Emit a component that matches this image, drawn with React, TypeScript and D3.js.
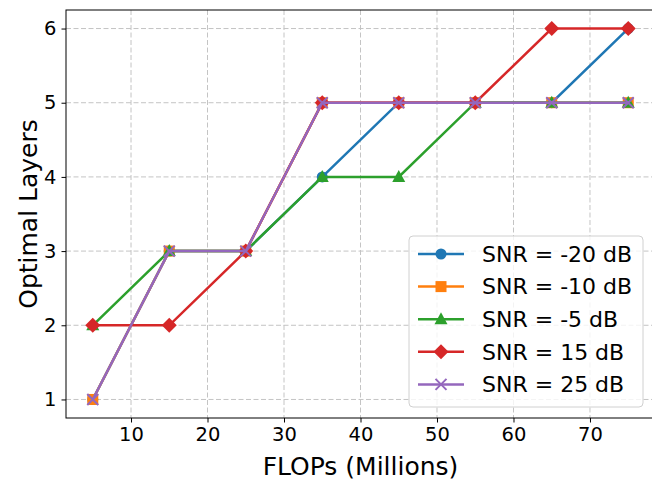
import { useEffect, useRef } from "react"
import * as d3 from "d3"

const flops = [5, 15, 25, 35, 45, 55, 65, 75]
const snrLabels = ["SNR = -20 dB", "SNR = -10 dB", "SNR = -5 dB", "SNR = 15 dB", "SNR = 25 dB"]
const snrM20 = [1, 3, 3, 4, 5, 5, 5, 6]
const snrM10 = [1, 3, 3, 5, 5, 5, 5, 5]
const snrM5 = [2, 3, 3, 4, 4, 5, 5, 5]
const snr15 = [2, 2, 3, 5, 5, 5, 6, 6]
const snr25 = [1, 3, 3, 5, 5, 5, 5, 5]
const yTicks = [1, 2, 3, 4, 5, 6]
const xTicks = [10, 20, 30, 40, 50, 60, 70]

const colors = ["#1f77b4", "#ff7f0e", "#2ca02c", "#d62728", "#9467bd"]
const markers = ["circle", "square", "triangle", "diamond", "x"]

function drawMarker(g: d3.Selection<SVGGElement, unknown, null, undefined>, kind: string, x: number, y: number, color: string) {
  if (kind === "circle") {
    g.append("circle").attr("cx", x).attr("cy", y).attr("r", 5.5).attr("fill", color)
  } else if (kind === "square") {
    g.append("rect").attr("x", x - 5.5).attr("y", y - 5.5).attr("width", 11).attr("height", 11).attr("fill", color)
  } else if (kind === "triangle") {
    g.append("path").attr("d", `M${x},${y - 7}L${x + 6.5},${y + 5}L${x - 6.5},${y + 5}Z`).attr("fill", color)
  } else if (kind === "diamond") {
    g.append("path").attr("d", `M${x},${y - 7.5}L${x + 7.5},${y}L${x},${y + 7.5}L${x - 7.5},${y}Z`).attr("fill", color)
  } else {
    g.append("path").attr("d", `M${x - 5.5},${y - 5.5}L${x + 5.5},${y + 5.5}M${x - 5.5},${y + 5.5}L${x + 5.5},${y - 5.5}`)
      .attr("stroke", color).attr("stroke-width", 2).attr("fill", "none")
  }
}

export default function App() {
  const svgRef = useRef<SVGSVGElement>(null)

  useEffect(() => {
    const svg = d3.select(svgRef.current)
    svg.selectAll("*").remove()

    const width = 652
    const height = 483
    // plot area runs a little past the right edge of the picture (right spine is cropped)
    const plot = { left: 66, right: 655, top: 10, bottom: 418 }
    const font = "DejaVu Sans, sans-serif"

    svg.attr("width", width).attr("height", height)

    const x = d3.scaleLinear().domain([1.5, 78.5]).range([plot.left, plot.right])
    const y = d3.scaleLinear().domain([0.75, 6.25]).range([plot.bottom, plot.top])

    const series = [snrM20, snrM10, snrM5, snr15, snr25]

    // Grid
    const grid = svg.append("g")
    xTicks.forEach(t => {
      grid.append("line")
        .attr("x1", x(t)).attr("x2", x(t))
        .attr("y1", plot.top).attr("y2", plot.bottom)
        .attr("stroke", "#c4c4c4").attr("stroke-width", 1).attr("stroke-dasharray", "5,2.5")
    })
    yTicks.forEach(t => {
      grid.append("line")
        .attr("x1", plot.left).attr("x2", plot.right)
        .attr("y1", y(t)).attr("y2", y(t))
        .attr("stroke", "#c4c4c4").attr("stroke-width", 1).attr("stroke-dasharray", "5,2.5")
    })

    // Lines and markers
    const line = d3.line<number>().x((d, i) => x(flops[i])).y(d => y(d))
    series.forEach((s, si) => {
      const g = svg.append("g")
      g.append("path")
        .attr("d", line(s))
        .attr("fill", "none")
        .attr("stroke", colors[si])
        .attr("stroke-width", 2.5)
      s.forEach((v, i) => drawMarker(g as any, markers[si], x(flops[i]), y(v), colors[si]))
    })

    // Spines
    svg.append("rect")
      .attr("x", plot.left).attr("y", plot.top)
      .attr("width", plot.right - plot.left)
      .attr("height", plot.bottom - plot.top)
      .attr("fill", "none").attr("stroke", "#000").attr("stroke-width", 1)

    // Axes
    const xAxis = svg.append("g")
      .attr("transform", `translate(0,${plot.bottom})`)
      .call(d3.axisBottom(x).tickValues(xTicks).tickSize(4.5).tickPadding(5).tickFormat(d3.format("d")))
    xAxis.select(".domain").remove()
    xAxis.selectAll("text").attr("font-size", 19.5).attr("font-family", font).attr("fill", "#000")

    const yAxis = svg.append("g")
      .attr("transform", `translate(${plot.left},0)`)
      .call(d3.axisLeft(y).tickValues(yTicks).tickSize(4.5).tickPadding(5).tickFormat(d3.format("d")))
    yAxis.select(".domain").remove()
    yAxis.selectAll("text").attr("font-size", 19.5).attr("font-family", font).attr("fill", "#000")

    svg.append("text")
      .attr("x", (plot.left + plot.right) / 2)
      .attr("y", 475)
      .attr("text-anchor", "middle")
      .attr("font-size", 25)
      .attr("font-family", font)
      .text("FLOPs (Millions)")

    svg.append("text")
      .attr("transform", `translate(28,${(plot.top + plot.bottom) / 2}) rotate(-90)`)
      .attr("text-anchor", "middle")
      .attr("dy", "0.35em")
      .attr("font-size", 25)
      .attr("font-family", font)
      .text("Optimal Layers")

    // Legend
    const legend = svg.append("g").attr("transform", "translate(409,236)")
    legend.append("rect")
      .attr("width", 234).attr("height", 171).attr("rx", 4)
      .attr("fill", "white").attr("fill-opacity", 0.8)
      .attr("stroke", "#d0d0d0")
    snrLabels.forEach((label, i) => {
      const cy = 18 + i * 32.6
      const item = legend.append("g")
      item.append("line")
        .attr("x1", 9).attr("x2", 55).attr("y1", cy).attr("y2", cy)
        .attr("stroke", colors[i]).attr("stroke-width", 2.5)
      drawMarker(item as any, markers[i], 32, cy, colors[i])
      item.append("text")
        .attr("x", 73).attr("y", cy).attr("dy", "0.35em")
        .attr("font-size", 22)
        .attr("font-family", font)
        .text(label)
    })
  }, [])

  return <svg ref={svgRef} style={{ position: "absolute", left: 0, top: 0 }}></svg>
}
